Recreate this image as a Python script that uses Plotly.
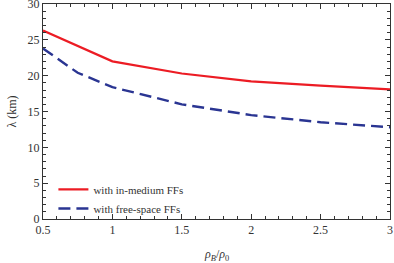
import plotly.graph_objects as go

x_vals = [0.5, 0.75, 1.0, 1.5, 2.0, 2.5, 3.0]
in_medium = [26.3, 24.1, 22.0, 20.3, 19.2, 18.6, 18.1]
free_space = [23.8, 20.4, 18.4, 16.0, 14.5, 13.5, 12.8]
x_ticks = [0.5, 1, 1.5, 2, 2.5, 3]
x_ticklabels = ["0.5", "1", "1.5", "2", "2.5", "3"]
y_ticks = [0, 5, 10, 15, 20, 25, 30]

FONT = "Liberation Serif, DejaVu Serif, serif"

fig = go.Figure()
fig.add_trace(go.Scatter(x=x_vals, y=in_medium, mode="lines",
                         name="with in-medium FFs",
                         line=dict(color="#ec1c24", width=2.2)))
fig.add_trace(go.Scatter(x=x_vals, y=free_space, mode="lines",
                         name="with free-space FFs",
                         line=dict(color="#2a3592", width=2.4, dash="12px,6px")))

axis_common = dict(showgrid=False, zeroline=False, showline=True, linecolor="#333",
                   linewidth=1, mirror="ticks", ticks="inside", ticklen=5,
                   tickcolor="#333", ticklabeloverflow="allow",
                   tickfont=dict(family=FONT, size=12, color="#333"))

fig.update_xaxes(range=[0.5, 3], tickvals=x_ticks, ticktext=x_ticklabels,
                 minor=dict(dtick=0.1, tick0=0.5, ticks="inside", ticklen=3, tickcolor="#333"),
                 **axis_common)
fig.update_yaxes(range=[0, 30], tickvals=y_ticks,
                 minor=dict(dtick=1, tick0=0, ticks="inside", ticklen=3, tickcolor="#333"),
                 title=dict(text="λ (km)", font=dict(family=FONT, size=12, color="#333"), standoff=8),
                 **axis_common)

fig.add_annotation(text="<i>ρ</i><sub><i>B</i></sub>/<i>ρ</i><sub>0</sub>",
                   xref="paper", yref="paper", x=0.5, y=-0.12, yanchor="top",
                   showarrow=False, font=dict(family=FONT, size=12, color="#333"))

fig.update_layout(
    width=394, height=263,
    margin=dict(l=43, r=4, t=4, b=44, autoexpand=False),
    plot_bgcolor="white", paper_bgcolor="white",
    font=dict(family=FONT, size=12, color="#333"),
    showlegend=True,
    legend=dict(x=0.03, y=0.205, xanchor="left", yanchor="top",
                bgcolor="rgba(0,0,0,0)", borderwidth=0,
                font=dict(family=FONT, size=11, color="#333"),
                tracegroupgap=0, itemwidth=30),
)

fig.write_html("out.html", config={"displayModeBar": False},
               post_script="document.body.style.margin='0';document.body.style.padding='0';")
